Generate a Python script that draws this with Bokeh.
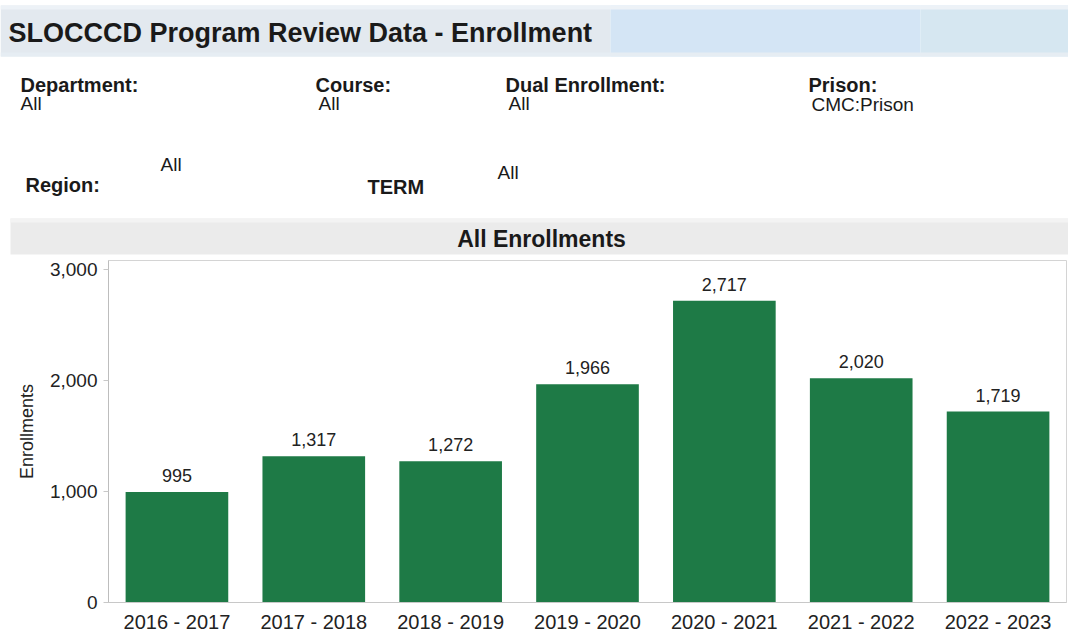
from bokeh.plotting import figure
from bokeh.models import ColumnDataSource, Range1d, FactorRange, FixedTicker, NumeralTickFormatter
from bokeh.core.properties import value
from bokeh.embed import file_html
from bokeh.resources import INLINE

# ---- data ----
terms = ["2016 - 2017", "2017 - 2018", "2018 - 2019", "2019 - 2020",
         "2020 - 2021", "2021 - 2022", "2022 - 2023"]
enrollments = [995, 1317, 1272, 1966, 2717, 2020, 1719]
y_ticks = [0, 1000, 2000, 3000]

title_text = "SLOCCCD Program Review Data - Enrollment"
filter_labels = ["Department:", "Course:", "Dual Enrollment:", "Prison:", "Region:", "TERM"]
filter_values = ["All", "All", "All", "CMC:Prison", "All", "All"]
chart_title = "All Enrollments"

FONT = "Liberation Sans"
W = 1068
LEFT = 108
RIGHT = 2
HEAD_H = 259
CHART_H = 376

# ---- header figure: data units equal pixels (y downward) ----
head = figure(width=W, height=HEAD_H, x_range=Range1d(0, W), y_range=Range1d(HEAD_H, 0),
              output_backend="svg", toolbar_location=None,
              min_border=0, outline_line_color=None)
head.axis.visible = False
head.grid.visible = False

# title band (gradient approximated with strips)
head.quad(left=[0, 610, 920], right=[610, 920, W], top=[5, 5, 5], bottom=[56, 56, 56],
          fill_color=["#e3e9ef", "#d4e5f5", "#d6e7f1"], line_color=None)
head.quad(left=[0, 0], right=[W, W], top=[5, 52], bottom=[9, 56],
          fill_color=["#edf2f7", "#e6edf3"], line_color=None)
# chart title band
head.quad(left=[10, 10], right=[W, W], top=[218, 218], bottom=[254, 222],
          fill_color=["#ebebeb", "#f3f3f3"], line_color=None)

head.text(x=[8], y=[32], text=[title_text], text_font=value(FONT), text_font_size="27px",
          text_font_style="bold", text_color="#1a1a1a", text_align="left", text_baseline="middle")

lab_src = ColumnDataSource(dict(
    x=[20, 315, 505, 808, 25, 367],
    y=[84, 84, 84, 84, 184, 186],
    text=filter_labels))
head.text(x="x", y="y", text="text", source=lab_src, text_font=value(FONT), text_font_size="20px",
          text_font_style="bold", text_color="#1a1a1a", text_align="left", text_baseline="middle")

val_src = ColumnDataSource(dict(
    x=[20, 318, 508, 811, 160, 497],
    y=[103, 103, 103, 104, 164, 172],
    text=filter_values))
head.text(x="x", y="y", text="text", source=val_src, text_font=value(FONT), text_font_size="19px",
          text_color="#1a1a1a", text_align="left", text_baseline="middle")

head.text(x=[541], y=[238], text=[chart_title], text_font=value(FONT), text_font_size="23px",
          text_font_style="bold", text_color="#1a1a1a", text_align="center", text_baseline="middle")

# ---- chart figure ----
p = figure(width=W, height=CHART_H, x_range=FactorRange(*terms), y_range=Range1d(0, 3080),
           output_backend="svg", toolbar_location=None,
           min_border_left=LEFT, min_border_right=RIGHT, min_border_top=1, min_border_bottom=31)
p.outline_line_color = "#d4d4d4"
p.grid.visible = False

src = ColumnDataSource(dict(term=terms, val=enrollments,
                            lbl=[f"{v:,}" for v in enrollments]))
p.vbar(x="term", top="val", width=0.75, source=src, fill_color="#1e7a46", line_color=None)
p.text(x="term", y="val", text="lbl", source=src, y_offset=-10,
       text_font=value(FONT), text_font_size="18px", text_color="#222222",
       text_align="center", text_baseline="bottom")

p.yaxis.ticker = FixedTicker(ticks=y_ticks)
p.yaxis.formatter = NumeralTickFormatter(format="0,0")
p.yaxis.axis_label = "Enrollments"
p.yaxis.axis_label_text_font = FONT
p.yaxis.axis_label_text_font_size = "18px"
p.yaxis.axis_label_text_font_style = "normal"
p.yaxis.axis_label_text_color = "#222222"
p.yaxis.axis_label_standoff = 10
p.yaxis.major_label_text_font = FONT
p.yaxis.major_label_text_font_size = "19px"
p.yaxis.major_label_text_color = "#222222"
p.yaxis.axis_line_color = "#bdbdbd"
p.yaxis.major_tick_line_color = "#c8c8c8"
p.yaxis.major_tick_out = 5
p.yaxis.major_tick_in = 0
p.yaxis.minor_tick_line_color = None
p.yaxis.major_label_standoff = 6

p.xaxis.major_label_text_font = FONT
p.xaxis.major_label_text_font_size = "20px"
p.xaxis.major_label_text_color = "#222222"
p.xaxis.axis_line_color = "#c8c8c8"
p.xaxis.major_tick_line_color = None
p.xaxis.minor_tick_line_color = None
p.xaxis.separator_line_color = None
p.xaxis.major_label_standoff = 2

open("out.html", "w").write(file_html([head, p], INLINE))
